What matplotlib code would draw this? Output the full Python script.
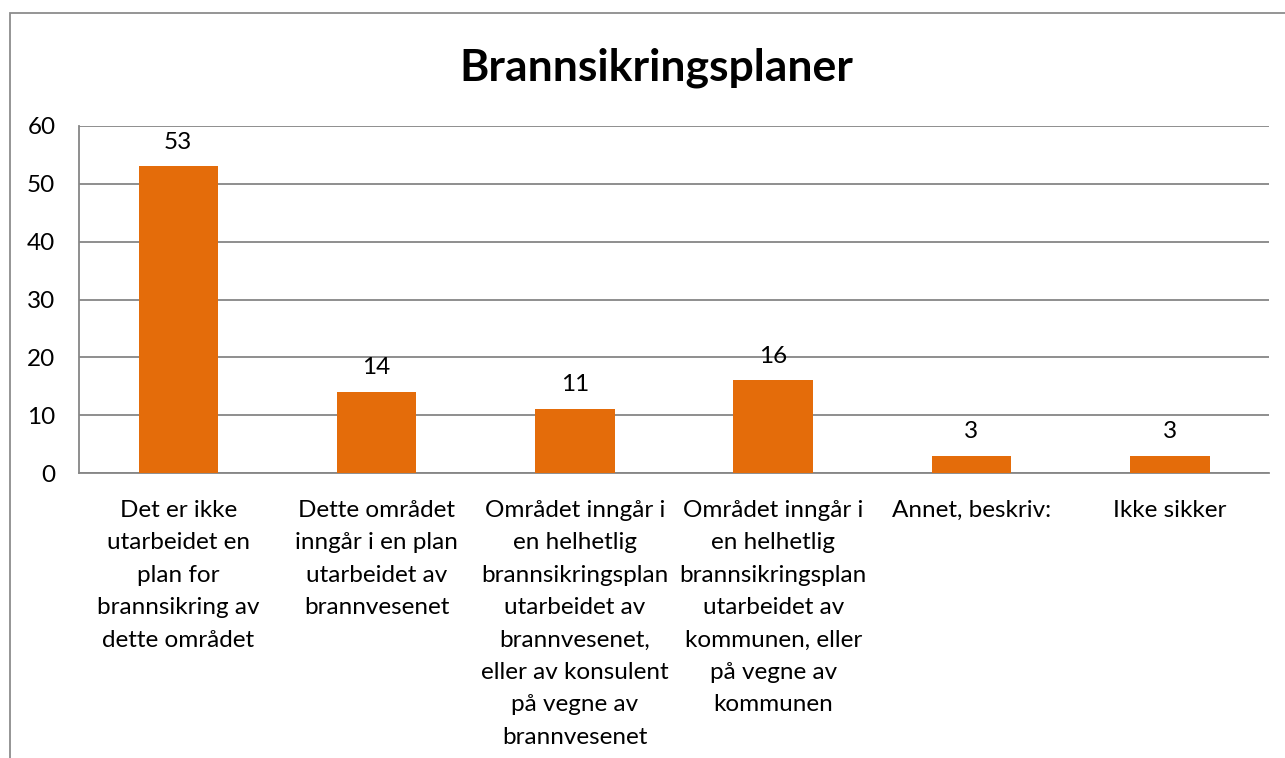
import matplotlib
matplotlib.use("Agg")
import matplotlib.pyplot as plt
from matplotlib.patches import Rectangle

categories = [
    "Det er ikke\nutarbeidet en\nplan for\nbrannsikring av\ndette området",
    "Dette området\ninngår i en plan\nutarbeidet av\nbrannvesenet",
    "Området inngår i\nen helhetlig\nbrannsikringsplan\nutarbeidet av\nbrannvesenet,\neller av konsulent\npå vegne av\nbrannvesenet",
    "Området inngår i\nen helhetlig\nbrannsikringsplan\nutarbeidet av\nkommunen, eller\npå vegne av\nkommunen",
    "Annet, beskriv:",
    "Ikke sikker",
]
values = [53, 14, 11, 16, 3, 3]
yticks = [0, 10, 20, 30, 40, 50, 60]
title = "Brannsikringsplaner"

plt.rcParams['font.family'] = ['Lato', 'DejaVu Sans']

W, H = 1285, 758
fig = plt.figure(figsize=(W/100, H/100), dpi=100)
ax = fig.add_axes([79/W, 1-473/H, (1269-79)/W, (473-126)/H])

bar_color = "#E46C0A"
grid_color = "#868686"
fs = 17.5
x = list(range(len(values)))
bars = ax.bar(x, values, width=0.4, color=bar_color, zorder=3)
for xi, v in zip(x, values):
    ax.annotate(str(v), (xi, v), xytext=(0, 10), textcoords="offset points",
                ha="center", va="bottom", fontsize=fs, color="black")

ax.set_xlim(-0.5, len(values)-0.5)
ax.set_ylim(0, 60)
ax.set_yticks(yticks)
ax.set_yticklabels([str(t) for t in yticks], fontsize=fs)
ax.yaxis.grid(True, color=grid_color, linewidth=1.3, zorder=0)
ax.set_axisbelow(True)
ax.tick_params(axis='y', length=0, pad=17)
ax.tick_params(axis='x', length=0, pad=19.5)
ax.set_xticks(x)
ax.set_xticklabels(categories, fontsize=fs, linespacing=1.67, va="top")
for s in ["top", "right"]:
    ax.spines[s].set_visible(False)
ax.spines["left"].set_color(grid_color)
ax.spines["left"].set_linewidth(1.3)
ax.spines["bottom"].set_color(grid_color)
ax.spines["bottom"].set_linewidth(1.3)

fig.text(656/W, 1-68/H, title, ha="center", va="center", fontsize=32, fontweight="bold")

border = Rectangle((10/W, -0.1), 1.2, 1-13/H+0.1, transform=fig.transFigure,
                   fill=False, edgecolor="#8c8c8c", linewidth=1.3)
fig.patches.append(border)

fig.savefig("out.png", dpi=100)
